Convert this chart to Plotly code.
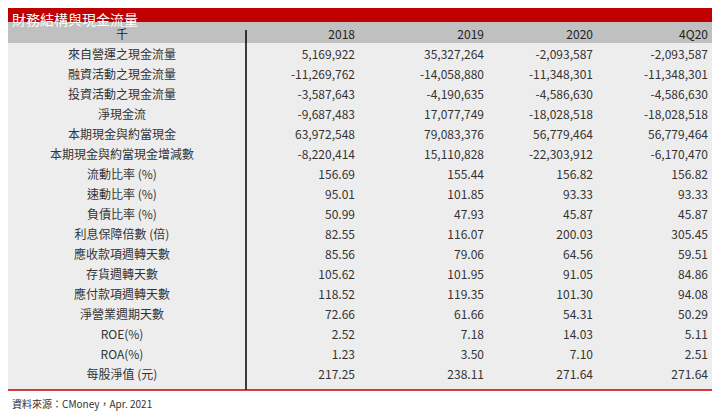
import plotly.graph_objects as go

labels = ["來自營運之現金流量","融資活動之現金流量","投資活動之現金流量","淨現金流","本期現金與約當現金",
          "本期現金與約當現金增減數","流動比率 (%)","速動比率 (%)","負債比率 (%)","利息保障倍數 (倍)",
          "應收款項週轉天數","存貨週轉天數","應付款項週轉天數","淨營業週期天數","ROE(%)","ROA(%)","每股淨值 (元)"]
headers = ["千","2018","2019","2020","4Q20"]
y2018 = ["5,169,922","-11,269,762","-3,587,643","-9,687,483","63,972,548","-8,220,414","156.69","95.01","50.99","82.55","85.56","105.62","118.52","72.66","2.52","1.23","217.25"]
y2019 = ["35,327,264","-14,058,880","-4,190,635","17,077,749","79,083,376","15,110,828","155.44","101.85","47.93","116.07","79.06","101.95","119.35","61.66","7.18","3.50","238.11"]
y2020 = ["-2,093,587","-11,348,301","-4,586,630","-18,028,518","56,779,464","-22,303,912","156.82","93.33","45.87","200.03","64.56","91.05","101.30","54.31","14.03","7.10","271.64"]
y4q20 = ["-2,093,587","-11,348,301","-4,586,630","-18,028,518","56,779,464","-6,170,470","156.82","93.33","45.87","305.45","59.51","84.86","94.08","50.29","5.11","2.51","271.64"]

W, H = 720, 412
font = dict(family="Noto Sans CJK TC", size=12, color="#333333")
# background blocks (table is drawn with a small inset)
bg = [("#C0C0C0", 22, 42), ("#EDEDED", 42, 382)]
fig = go.Figure(go.Table(
    domain=dict(x=[0, 708/W], y=[1-374/H, 1-14/H]),
    columnwidth=[228, 127, 129, 109, 115],
    header=dict(values=headers, fill_color="#C0C0C0", line_color="#C0C0C0",
                align=["center","right","right","right","right"], height=20,
                font=dict(family="Noto Sans CJK TC", size=12, color="#222")),
    cells=dict(values=[labels, y2018, y2019, y2020, y4q20], fill_color="#EDEDED", line_color="#EDEDED",
               align=["center","right","right","right","right"], height=20, font=font),
))
for c, a, b in bg:
    fig.add_shape(type="rect", xref="paper", yref="paper", x0=0, x1=718/W, y0=1-b/H, y1=1-a/H,
                  fillcolor=c, line_width=0, layer="below")
fig.add_shape(type="rect", xref="paper", yref="paper", x0=0, x1=1, y0=1-22/H, y1=1,
              fillcolor="#C00000", line_width=0, layer="below")
fig.add_annotation(text="財務結構與現金流量", xref="paper", yref="paper", x=0.003, y=1-11/H,
                   xanchor="left", yanchor="middle", showarrow=False,
                   font=dict(family="Noto Sans CJK TC", size=14, color="white"))
fig.add_shape(type="line", xref="paper", yref="paper", x0=238/W, x1=238/W, y0=1-382/H, y1=1-22/H,
              line=dict(color="black", width=1.5))
fig.add_shape(type="line", xref="paper", yref="paper", x0=0, x1=718/W, y0=1-382/H, y1=1-382/H,
              line=dict(color="#C00000", width=1.5))
fig.add_annotation(text="資料來源：CMoney，Apr. 2021", xref="paper", yref="paper", x=0.003, y=1-395/H,
                   xanchor="left", yanchor="middle", showarrow=False,
                   font=dict(family="Noto Sans CJK TC", size=10, color="#333"))
fig.update_layout(width=W, height=H, margin=dict(l=0, r=0, t=0, b=0), paper_bgcolor="white")
fig.write_html("out.html")
